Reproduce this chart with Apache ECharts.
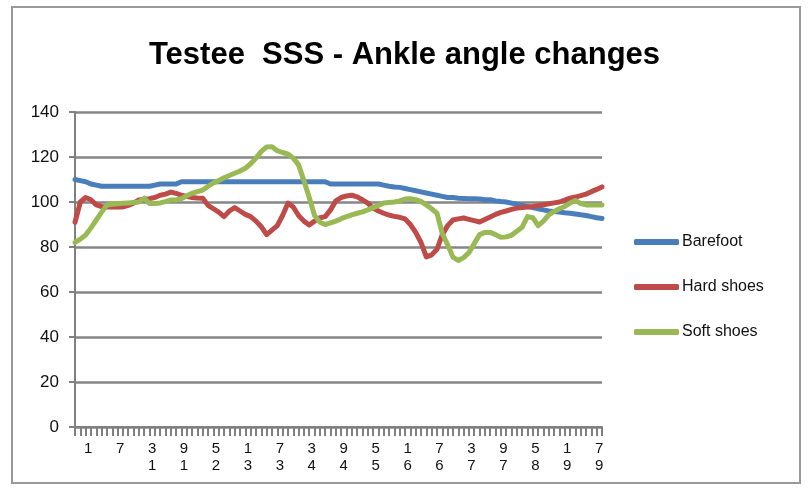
<!DOCTYPE html>
<html>
<head>
<meta charset="utf-8">
<script src="https://cdn.jsdelivr.net/npm/echarts@6/dist/echarts.min.js"></script>
<style>html,body{margin:0;padding:0;background:#fff}#c{width:809px;height:491px}</style>
</head>
<body>
<div id="c"></div>
<script>
var categories = [];
for (var k = 1; k <= 100; k++) categories.push(String(k));

var barefoot = [110,109.5,109,108,107.5,107,107,107,107,107,107,107,107,107,107,107.5,108,108,108,108,
109,109,109,109,109,109,109,109,109,109,109,109,109,109,109,109,109,109,109,109,
109,109,109,109,109,109,109,109,108,108,108,108,108,108,108,108,108,108,107.5,107,
106.7,106.5,106,105.5,105,104.5,104,103.5,103,102.5,102,102,101.7,101.6,101.5,101.5,101.3,101,101,100.5,
100.2,100,99.5,99,98.5,98,97.5,97,96.5,96,95.8,95.5,95.2,95,94.7,94.3,94,93.5,93,92.7];

var hardShoes = [91,100,102,101,98.7,98,97.8,97.8,97.8,97.8,98.5,99.5,100.9,101.2,101.5,102,103,103.5,104.4,103.8,
103,102.5,102,101.8,101.7,98.5,97,95.5,93.5,96,97.5,96,94.5,93.5,91.5,89,85.5,87.5,89.5,94,
99.5,97.8,94,91.5,89.8,91.5,93,93.5,96.5,100.5,102,102.7,103,102.3,101,99.5,97.3,96,95,94.2,
93.6,93.2,92.5,90,86.5,82,75.6,76.5,79,85.5,89.5,92,92.5,92.9,92.3,91.7,91.1,92.2,93.3,94.5,
95.4,96,96.7,97.3,97.5,97.8,98,98.4,98.8,99.2,99.6,100,100.8,101.7,102.2,102.8,103.5,104.6,105.6,106.7];

var softShoes = [82,83.5,85.3,88.5,92,95.5,98.7,99,99.2,99.4,99.6,99.8,100,101.7,99.3,99.3,99.6,100.2,100.9,100.9,
101.5,102.8,103.9,104.6,105.3,107,108.5,109.5,110.8,111.8,112.8,113.8,115,117,119.5,122.5,124.5,124.6,122.8,122,
121.3,119.5,116.5,109.5,102,94,91,90,90.7,91.5,92.6,93.5,94.3,95,95.6,96.5,97.5,98.5,99.6,99.8,
100,100.5,101.3,101.5,101,100.3,98.7,97,95,86,81,75.5,74,75.3,77.5,81.5,85.5,86.5,86.5,85.5,
84.3,84.5,85.2,87,88.8,93.5,93,89.5,91.5,94.3,95.8,97,98,99.5,100.7,99.3,98.7,98.7,98.7,98.7];

var yTicks = [0,20,40,60,80,100,120,140];
var titleText = 'Testee  SSS - Ankle angle changes';
var seriesNames = ['Barefoot','Hard shoes','Soft shoes'];

var FONT = "'Liberation Sans Narrow', 'Liberation Sans', sans-serif";
var chart = echarts.init(document.getElementById('c'), null, {renderer:'canvas'});

function mkSeries(name, data, color){
  return {
    name: name, type: 'line', data: data, symbol: 'none', smooth: false,
    lineStyle: {color: color, width: 5, cap: 'round', join: 'round'},
    itemStyle: {color: color}
  };
}

chart.setOption({
  animation: false,
  backgroundColor: '#fff',
  title: {
    text: titleText, left: 'center', top: 35,
    textStyle: {fontFamily: FONT, fontWeight: 'bold', fontSize: 31, color: '#000'}
  },
  graphic: [{
    type: 'rect', shape: {x: 12, y: 7, width: 788, height: 476},
    style: {fill: 'none', stroke: '#999', lineWidth: 2}, silent: true
  }],
  legend: {
    orient: 'vertical', left: 629, top: 229, itemWidth: 45, itemHeight: 6, itemGap: 29,
    icon: 'roundRect',
    data: seriesNames,
    textStyle: {fontFamily: FONT, fontSize: 16, color: '#111', padding: [0,0,0,-2]}
  },
  grid: {left: 75, right: 207, top: 112, bottom: 64, containLabel: false},
  xAxis: {
    type: 'category', data: categories, boundaryGap: false,
    axisLine: {lineStyle: {color: '#808080', width: 2}},
    axisTick: {show: true, interval: 0, length: 9, lineStyle: {color: '#808080', width: 2}},
    axisLabel: {
      interval: function(i){ return i % 6 === 0; },
      showMinLabel: true, showMaxLabel: true, hideOverlap: false,
      margin: 13, fontFamily: FONT, fontSize: 15, color: '#111', lineHeight: 17,
      align: 'left', padding: [0,0,0,9],
      formatter: function(v, i){
        if (i % 6 !== 0) return '';
        return v.length > 1 ? v.charAt(1) + '\n' + v.charAt(0) : v;
      }
    },
    splitLine: {show: false}
  },
  yAxis: {
    type: 'value', min: yTicks[0], max: yTicks[yTicks.length-1], interval: 20,
    axisLine: {show: true, lineStyle: {color: '#808080', width: 2}},
    axisTick: {show: true, length: 6, lineStyle: {color: '#808080', width: 2}},
    axisLabel: {margin: 16, fontFamily: FONT, fontSize: 17, color: '#111'},
    splitLine: {show: true, lineStyle: {color: '#868686', width: 2.5}}
  },
  series: [
    mkSeries(seriesNames[0], barefoot, '#4A7EBB'),
    mkSeries(seriesNames[1], hardShoes, '#BE4B48'),
    mkSeries(seriesNames[2], softShoes, '#98B954')
  ]
});
</script>
</body>
</html>
